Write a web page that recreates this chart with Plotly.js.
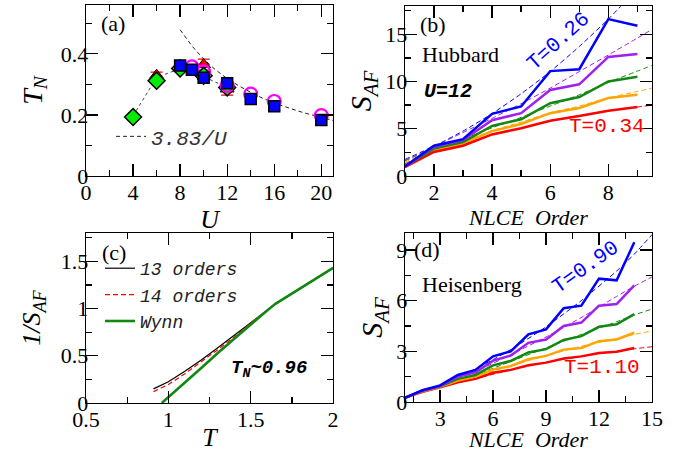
<!DOCTYPE html>
<html>
<head>
<meta charset="utf-8">
<script src="https://cdn.plot.ly/plotly-3.0.1.min.js"></script>
<style>html,body{margin:0;padding:0;background:#fff;}#chart{width:677px;height:452px;}</style>
</head>
<body>
<div id="chart"></div>
<script>
// ---------- Panel (a): T_N vs U ----------
const U_dot = [4, 6, 8, 10, 12];
const T_dot = [0.197, 0.322, 0.352, 0.325, 0.29];
const U_red = [6, 8, 10, 12];
const T_red = [0.33, 0.362, 0.365, 0.285];
const T_red_err = [0.01, 0.01, 0.018, 0.02];
const U_grn = [4, 6, 8, 10, 12];
const T_grn = [0.193, 0.312, 0.352, 0.328, 0.29];
const T_grn_err = [0.008, 0.008, 0.008, 0.008, 0.008];
const U_circ = [9, 10, 12, 14, 16, 20];
const T_circ = [0.357, 0.341, 0.297, 0.268, 0.244, 0.198];
const U_sq = [8, 9, 10, 12, 14, 16, 20];
const T_sq = [0.362, 0.348, 0.322, 0.304, 0.252, 0.228, 0.183];
const U_fit = [8, 9, 10, 11, 12, 13, 14, 15, 16, 17, 18, 19, 20, 21];
const T_fit = [0.479, 0.426, 0.383, 0.348, 0.319, 0.295, 0.274, 0.255, 0.239, 0.225, 0.213, 0.202, 0.192, 0.182];

// ---------- Panel (b): Hubbard S_AF vs NLCE order ----------
const ordB = [1, 2, 3, 4, 5, 6, 7, 8, 9];
const hubBlue   = [1.0, 3.2, 3.9, 6.57, 7.36, 11.1, 11.3, 16.6, 15.9];
const hubPurple = [1.0, 3.1, 3.8, 5.9, 6.65, 9.1, 9.7, 12.6, 12.9];
const hubGreen  = [1.0, 2.9, 3.6, 5.3, 6.0, 7.7, 8.35, 10.0, 10.5];
const hubOrange = [1.0, 2.75, 3.45, 4.75, 5.5, 6.65, 7.2, 8.25, 8.6];
const hubRed    = [0.95, 2.55, 3.2, 4.4, 5.05, 5.85, 6.35, 6.9, 7.3];
const ordBfitBlue = [1, 2, 3, 4, 5, 6, 7, 8, 8.5];
const hubFitBlue  = [1.75, 3.15, 4.75, 6.6, 8.7, 11.05, 13.7, 16.6, 18.2];
const ordBfit = [1, 2, 3, 4, 5, 6, 7, 8, 9, 9.5];
const hubFitPurple = [1.65, 3.1, 4.6, 6.1, 7.65, 9.3, 11.05, 12.8, 14.6, 15.5];
const hubFitGreen  = [1.6, 2.9, 3.9, 5.1, 6.2, 7.4, 8.6, 9.9, 11.1, 11.7];
const hubFitOrange = [1.45, 2.8, 3.6, 4.8, 5.7, 6.7, 7.4, 8.25, 8.95, 9.3];
const hubFitRed    = [1.3, 2.6, 3.3, 4.4, 5.05, 5.85, 6.4, 6.9, 7.3, 7.5];

// ---------- Panel (c): 1/S_AF vs T ----------
const Tc = [0.91, 1.0, 1.1, 1.2, 1.3, 1.4, 1.5, 1.6, 1.65, 1.8, 2.0];
const inv13 = [0.15, 0.225, 0.335, 0.455, 0.585, 0.715, 0.85, 0.98, 1.05, 1.21, 1.43];
const inv14 = [0.12, 0.195, 0.31, 0.435, 0.565, 0.70, 0.85, 0.98, 1.05, 1.21, 1.43];
const Tw = [0.96, 1.0, 1.1, 1.2, 1.3, 1.4, 1.5, 1.6, 1.65, 1.8, 2.0];
const invWynn = [0.0, 0.06, 0.22, 0.37, 0.53, 0.68, 0.84, 0.98, 1.05, 1.21, 1.43];

// ---------- Panel (d): Heisenberg S_AF vs NLCE order ----------
const ordD = [1, 2, 3, 4, 5, 6, 7, 8, 9, 10, 11, 12, 13, 14];
const heiBlue   = [0.25, 0.7, 0.98, 1.6, 1.9, 2.7, 3.0, 4.0, 4.3, 5.55, 5.7, 7.3, 7.2, 9.45];
const heiPurple = [0.25, 0.68, 0.95, 1.5, 1.75, 2.45, 2.75, 3.5, 3.7, 4.5, 4.7, 5.7, 5.8, 6.9];
const heiGreen  = [0.25, 0.66, 0.93, 1.37, 1.6, 2.17, 2.43, 2.93, 3.13, 3.67, 3.9, 4.45, 4.6, 5.2];
const heiOrange = [0.25, 0.63, 0.9, 1.27, 1.5, 1.93, 2.13, 2.53, 2.73, 3.1, 3.2, 3.6, 3.7, 4.1];
const heiRed    = [0.25, 0.6, 0.87, 1.17, 1.37, 1.73, 1.9, 2.17, 2.33, 2.57, 2.7, 2.9, 2.97, 3.2];
const ordDfit = [1, 3, 5, 7, 9, 11, 13, 14, 15];
const heiFitBlue   = [0.25, 1.0, 1.95, 3.1, 4.45, 6.0, 7.75, 8.75, 9.9];
const heiFitPurple = [0.25, 0.95, 1.8, 2.8, 3.85, 5.0, 6.25, 6.85, 7.4];
const heiFitGreen  = [0.25, 0.92, 1.6, 2.4, 3.2, 4.0, 4.75, 5.15, 5.5];
const heiFitOrange = [0.25, 0.9, 1.5, 2.15, 2.75, 3.3, 3.75, 4.0, 4.2];
const heiFitRed    = [0.25, 0.88, 1.38, 1.9, 2.35, 2.7, 3.0, 3.15, 3.27];

// ---------- styling ----------
const SERIF = 'Liberation Serif, Times New Roman, serif';
const MONO = 'Liberation Mono, Courier New, monospace';
const C = {blue:'#0000ff', purple:'#a020f0', green:'#118811', orange:'#ffa500', red:'#ff0000'};

function solid(x, y, color, xa, ya) {
  return {x, y, xaxis: xa, yaxis: ya, mode: 'lines', showlegend: false,
          line: {color, width: 2.5}, hoverinfo: 'skip'};
}
function dashed(x, y, color, xa, ya) {
  return {x, y, xaxis: xa, yaxis: ya, mode: 'lines', showlegend: false,
          line: {color, width: 1, dash: '5px,3px', shape: 'spline', smoothing: 0.6}, hoverinfo: 'skip'};
}

const traces = [
  // (a)
  {x: U_fit, y: T_fit, xaxis: 'x', yaxis: 'y', mode: 'lines', name: '<i>3.83/U</i>',
   legend: 'legend', line: {color: '#222', width: 1, dash: '4px,3px'}},
  {x: U_dot, y: T_dot, xaxis: 'x', yaxis: 'y', mode: 'lines+markers', showlegend: false,
   line: {color: '#444', width: 1, dash: 'dot'},
   marker: {symbol: 'triangle-up', size: 12, color: '#000'}},
  {x: U_red, y: T_red, xaxis: 'x', yaxis: 'y', mode: 'markers', showlegend: false,
   marker: {symbol: 'triangle-up', size: 12, color: '#ff0000', line: {color: '#000', width: 1}},
   error_y: {type: 'data', array: T_red_err, color: '#ff0000', thickness: 1.3, width: 6}},
  {x: U_grn, y: T_grn, xaxis: 'x', yaxis: 'y', mode: 'markers', showlegend: false,
   marker: {symbol: 'diamond', size: 13, color: '#00ee00', line: {color: '#000', width: 1.5}},
   error_y: {type: 'data', array: T_grn_err, color: '#00cc00', thickness: 1.3, width: 6}},
  {x: U_circ, y: T_circ, xaxis: 'x', yaxis: 'y', mode: 'markers', showlegend: false,
   marker: {symbol: 'circle-open', size: 13, color: '#ff00ff', line: {color: '#ff00ff', width: 2.2}}},
  {x: U_sq, y: T_sq, xaxis: 'x', yaxis: 'y', mode: 'markers', showlegend: false,
   marker: {symbol: 'square', size: 11, color: '#0000ff', line: {color: '#000', width: 1.5}}},
  // (b)
  dashed(ordBfitBlue, hubFitBlue, C.blue, 'x2', 'y2'),
  dashed(ordBfit, hubFitPurple, C.purple, 'x2', 'y2'),
  dashed(ordBfit, hubFitGreen, C.green, 'x2', 'y2'),
  dashed(ordBfit, hubFitOrange, C.orange, 'x2', 'y2'),
  dashed(ordBfit, hubFitRed, C.red, 'x2', 'y2'),
  solid(ordB, hubOrange, C.orange, 'x2', 'y2'),
  solid(ordB, hubRed, C.red, 'x2', 'y2'),
  solid(ordB, hubGreen, C.green, 'x2', 'y2'),
  solid(ordB, hubPurple, C.purple, 'x2', 'y2'),
  solid(ordB, hubBlue, C.blue, 'x2', 'y2'),
  // (c)
  {x: Tc, y: inv13, xaxis: 'x3', yaxis: 'y3', mode: 'lines', name: '<i>13 orders</i>',
   legend: 'legend2', line: {color: '#000', width: 1.2}},
  {x: Tc, y: inv14, xaxis: 'x3', yaxis: 'y3', mode: 'lines', name: '<i>14 orders</i>',
   legend: 'legend2', line: {color: '#ff0000', width: 1.2, dash: '5px,3px'}},
  {x: Tw, y: invWynn, xaxis: 'x3', yaxis: 'y3', mode: 'lines', name: '<i>Wynn</i>',
   legend: 'legend2', line: {color: '#118811', width: 2.6}},
  // (d)
  dashed(ordDfit, heiFitBlue, C.blue, 'x4', 'y4'),
  dashed(ordDfit, heiFitPurple, C.purple, 'x4', 'y4'),
  dashed(ordDfit, heiFitGreen, C.green, 'x4', 'y4'),
  dashed(ordDfit, heiFitOrange, C.orange, 'x4', 'y4'),
  dashed(ordDfit, heiFitRed, C.red, 'x4', 'y4'),
  solid(ordD, heiRed, C.red, 'x4', 'y4'),
  solid(ordD, heiOrange, C.orange, 'x4', 'y4'),
  solid(ordD, heiGreen, C.green, 'x4', 'y4'),
  solid(ordD, heiPurple, C.purple, 'x4', 'y4'),
  solid(ordD, heiBlue, C.blue, 'x4', 'y4')
];

function minor(dtick) {
  return {ticks: 'inside', ticklen: 6, tickwidth: 1.3, tickcolor: '#000', dtick: dtick, tick0: 0, showgrid: false};
}
function ax(isY, extra) {
  return Object.assign({
    showline: true, linecolor: '#000', linewidth: 1.3, mirror: 'allticks',
    ticks: 'inside', ticklen: 12, tickwidth: 1.3, tickcolor: '#000',
    showgrid: false, zeroline: false, fixedrange: true,
    ticklabelstandoff: isY ? -8 : -4,
    tickfont: {family: SERIF, size: 22, color: '#000'}
  }, extra);
}
function ttl(text, size, standoff) {
  return {text, font: {family: SERIF, size, color: '#000'}, standoff};
}

const layout = {
  width: 677, height: 452,
  margin: {l: 0, r: 0, t: 0, b: 0},
  paper_bgcolor: '#fff', plot_bgcolor: '#fff',
  xaxis: ax(false, {domain: [0.127, 0.492], anchor: 'y', range: [0, 21], tick0: 0, dtick: 4,
             minor: minor(2), title: ttl('<i>U</i>', 26, 0)}),
  yaxis: ax(true, {domain: [0.6106, 0.989], anchor: 'x', range: [0, 0.56], tick0: 0, dtick: 0.2,
             minor: minor(0.1), title: ttl('<i>T</i><sub><i>N</i></sub>', 28, 10)}),
  xaxis2: ax(false, {domain: [0.598, 0.963], anchor: 'y2', range: [1, 9.5], tick0: 0, dtick: 2,
             minor: minor(1), title: ttl('<i>NLCE  Order</i>', 22, 0)}),
  yaxis2: ax(true, {domain: [0.6106, 0.987], anchor: 'x2', range: [0, 18], tick0: 0, dtick: 5,
             minor: minor(2.5), title: ttl('<i>S</i><sub><i>AF</i></sub>', 30, 4)}),
  xaxis3: ax(false, {domain: [0.127, 0.492], anchor: 'y3', range: [0.5, 2], tick0: 0, dtick: 0.5,
             minor: minor(0.25), title: ttl('<i>T</i>', 26, 0)}),
  yaxis3: ax(true, {domain: [0.1084, 0.4845], anchor: 'x3', range: [0, 1.8], tick0: 0, dtick: 0.5,
             minor: minor(0.25), title: ttl('<i>1/S</i><sub><i>AF</i></sub>', 26, 12)}),
  xaxis4: ax(false, {domain: [0.598, 0.963], anchor: 'y4', range: [1, 15], tick0: 0, dtick: 3,
             minor: minor(1.5), title: ttl('<i>NLCE  Order</i>', 22, 0)}),
  yaxis4: ax(true, {domain: [0.1106, 0.4845], anchor: 'x4', range: [0, 10], tick0: 0, dtick: 3,
             minor: minor(1.5), title: ttl('<i>S</i><sub><i>AF</i></sub>', 30, 4)}),
  legend: {x: 111 / 677, y: 1 - 136.7 / 452, xanchor: 'left', yanchor: 'middle',
           bgcolor: 'rgba(0,0,0,0)', borderwidth: 0,
           font: {family: MONO, size: 21, color: '#333'}},
  legend2: {x: 100 / 677, y: 1 - 295 / 452, xanchor: 'left', yanchor: 'middle',
            bgcolor: 'rgba(0,0,0,0)', borderwidth: 0, traceorder: 'normal',
            font: {family: MONO, size: 18, color: '#222'}},
  annotations: [
    {xref: 'x', yref: 'y', x: 2.3, y: 0.50, text: '(a)', showarrow: false,
     font: {family: SERIF, size: 22, color: '#000'}},
    {xref: 'x2', yref: 'y2', x: 1.98, y: 16.07, text: '(b)', showarrow: false,
     font: {family: SERIF, size: 22, color: '#000'}},
    {xref: 'x2', yref: 'y2', x: 2.9, y: 12.87, text: 'Hubbard', showarrow: false,
     font: {family: SERIF, size: 22, color: '#000'}},
    {xref: 'x2', yref: 'y2', x: 2.47, y: 8.96, text: '<b><i>U=12</i></b>', showarrow: false,
     font: {family: MONO, size: 20, color: '#000'}},
    {xref: 'x2', yref: 'y2', x: 6.29, y: 14.2, text: 'T=0.26', showarrow: false, textangle: -42,
     font: {family: MONO, size: 21, color: '#0000ff'}},
    {xref: 'x2', yref: 'y2', x: 7.94, y: 5.19, text: 'T=0.34', showarrow: false,
     font: {family: MONO, size: 21, color: '#ff0000'}},
    {xref: 'x3', yref: 'y3', x: 0.671, y: 1.594, text: '(c)', showarrow: false,
     font: {family: SERIF, size: 22, color: '#000'}},
    {xref: 'x3', yref: 'y3', x: 1.611, y: 0.364, text: '<b><i>T<sub>N</sub>~0.96</i></b>', showarrow: false,
     font: {family: MONO, size: 19, color: '#000'}},
    {xref: 'x4', yref: 'y4', x: 2.25, y: 9.0, text: '(d)', showarrow: false,
     font: {family: SERIF, size: 22, color: '#000'}},
    {xref: 'x4', yref: 'y4', x: 4.82, y: 6.97, text: 'Heisenberg', showarrow: false,
     font: {family: SERIF, size: 22, color: '#000'}},
    {xref: 'x4', yref: 'y4', x: 11.25, y: 7.96, text: 'T=0.90', showarrow: false, textangle: -35,
     font: {family: MONO, size: 21, color: '#0000ff'}},
    {xref: 'x4', yref: 'y4', x: 12.15, y: 2.03, text: 'T=1.10', showarrow: false,
     font: {family: MONO, size: 21, color: '#ff0000'}}
  ]
};

Plotly.newPlot('chart', traces, layout, {displayModeBar: false, staticPlot: true});
</script>
</body>
</html>
